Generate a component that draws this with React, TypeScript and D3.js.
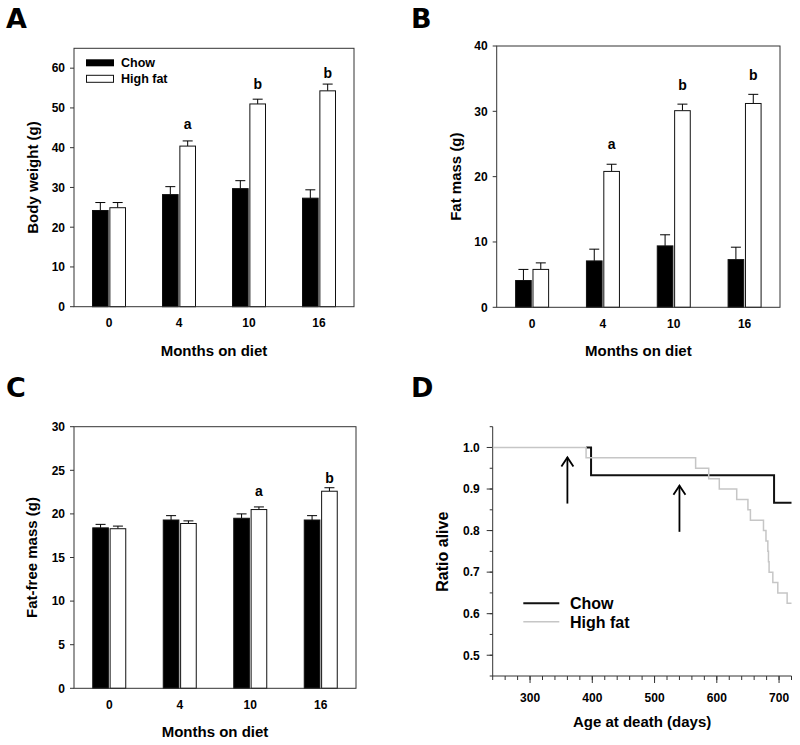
import * as d3 from "d3";

// ---- data ----
const months = ["0", "4", "10", "16"];

// A: body weight (g)
const bodyWeightChow = [24.2, 28.2, 29.7, 27.3];
const bodyWeightChowErr = [2.0, 2.0, 2.0, 2.1];
const bodyWeightHF = [24.9, 40.4, 51.0, 54.3];
const bodyWeightHFErr = [1.3, 1.3, 1.2, 1.7];
const bodyWeightSig = ["", "a", "b", "b"];
const bodyWeightSigY = [0, 44.7, 54.7, 57.5];

// B: fat mass (g)
const fatMassChow = [4.1, 7.1, 9.4, 7.3];
const fatMassChowErr = [1.7, 1.8, 1.7, 1.9];
const fatMassHF = [5.8, 20.8, 30.1, 31.2];
const fatMassHFErr = [1.0, 1.1, 1.0, 1.4];
const fatMassSig = ["", "a", "b", "b"];
const fatMassSigY = [0, 24.3, 33.2, 34.8];

// C: fat-free mass (g)
const leanChow = [18.4, 19.3, 19.5, 19.3];
const leanChowErr = [0.4, 0.5, 0.5, 0.5];
const leanHF = [18.3, 18.9, 20.5, 22.6];
const leanHFErr = [0.3, 0.3, 0.3, 0.4];
const leanSig = ["", "", "a", "b"];
const leanSigY = [0, 0, 22.05, 23.6];

// D: survival, [day, ratio alive] steps
// (chow line is hidden under the grey one before ~390 days)
const survivalChow: [number, number][] = [
  [390, 1.0],
  [398, 0.933],
  [692, 0.867],
  [720, 0.867],
];
const survivalHF: [number, number][] = [
  [240, 1.0],
  [390, 0.975],
  [566, 0.95],
  [587, 0.925],
  [604, 0.9],
  [632, 0.875],
  [650, 0.85],
  [654, 0.825],
  [675, 0.8],
  [679, 0.775],
  [682, 0.75],
  [683, 0.725],
  [684, 0.7],
  [690, 0.675],
  [698, 0.65],
  [713, 0.625],
  [720, 0.625],
];
// arrows: day, from ratio, to ratio
const arrowDays = [360, 540];
const arrowFrom = [0.865, 0.797];
const arrowTo = [0.976, 0.908];

const FONT = "'Liberation Sans', Arial, sans-serif";
const LETTER_FONT = "'DejaVu Sans', Verdana, sans-serif";
const GREY = "#c6c6c6";

type BarProps = {
  left: number;
  top: number;
  right: number;
  bottom: number;
  yMax: number;
  yStep: number;
  chow: number[];
  chowErr: number[];
  hf: number[];
  hfErr: number[];
  sig: string[];
  sigY: number[];
  yLabel: string;
  yLabelX: number;
  legend?: boolean;
};

function BarPanel(p: BarProps) {
  const x0 = d3.scaleBand().domain(months).range([p.left, p.right]);
  const half = x0.bandwidth() / 2;
  const x1 = d3
    .scaleBand()
    .domain(["chow", "hf"])
    .range([half - 16.5, half + 16.5])
    .paddingInner(0.1);
  const y = d3.scaleLinear().domain([0, p.yMax]).range([p.bottom, p.top]);
  const ticks = d3.range(0, p.yMax + 0.001, p.yStep);
  const series = [
    { key: "chow", v: p.chow, e: p.chowErr, fill: "#000" },
    { key: "hf", v: p.hf, e: p.hfErr, fill: "#fff" },
  ];
  const bw = x1.bandwidth();
  return (
    <g>
      {series.map((s) =>
        months.map((m, i) => {
          const bx = (x0(m) as number) + (x1(s.key) as number);
          const cx = bx + bw / 2;
          return (
            <g key={s.key + m}>
              <line
                x1={cx}
                x2={cx}
                y1={y(s.v[i])}
                y2={y(s.v[i] + s.e[i])}
                stroke="#000"
                strokeWidth={1}
              />
              <line
                x1={cx - 5}
                x2={cx + 5}
                y1={y(s.v[i] + s.e[i])}
                y2={y(s.v[i] + s.e[i])}
                stroke="#000"
                strokeWidth={1}
              />
              <rect
                x={bx}
                y={y(s.v[i])}
                width={bw}
                height={p.bottom - y(s.v[i])}
                fill={s.fill}
                stroke="#111"
                strokeWidth={1}
              />
            </g>
          );
        })
      )}
      {months.map((m, i) =>
        p.sig[i] ? (
          <text
            key={"s" + m}
            x={(x0(m) as number) + (x1("hf") as number) + bw / 2}
            y={y(p.sigY[i])}
            textAnchor="middle"
            fontFamily={FONT}
            fontWeight="bold"
            fontSize={14}
          >
            {p.sig[i]}
          </text>
        ) : null
      )}
      {/* frame */}
      <rect
        x={p.left}
        y={p.top}
        width={p.right - p.left}
        height={p.bottom - p.top}
        fill="none"
        stroke="#333"
        strokeWidth={1}
      />
      {ticks.map((t) => (
        <g key={"t" + t}>
          <line x1={p.left - 4} x2={p.left} y1={y(t)} y2={y(t)} stroke="#333" />
          <text
            x={p.left - 9}
            y={y(t)}
            dy="0.36em"
            textAnchor="end"
            fontFamily={FONT}
            fontWeight="bold"
            fontSize={12}
          >
            {t}
          </text>
        </g>
      ))}
      {months.map((m) => (
        <text
          key={"x" + m}
          x={(x0(m) as number) + half}
          y={p.bottom + 20.5}
          textAnchor="middle"
          fontFamily={FONT}
          fontWeight="bold"
          fontSize={12}
        >
          {m}
        </text>
      ))}
      <text
        x={(p.left + p.right) / 2}
        y={p.bottom + 49}
        textAnchor="middle"
        fontFamily={FONT}
        fontWeight="bold"
        fontSize={15}
      >
        Months on diet
      </text>
      <text
        transform={`translate(${p.yLabelX},${(p.top + p.bottom) / 2}) rotate(-90)`}
        textAnchor="middle"
        fontFamily={FONT}
        fontWeight="bold"
        fontSize={15}
      >
        {p.yLabel}
      </text>
      {p.legend && (
        <g fontFamily={FONT} fontWeight="bold" fontSize={12.5}>
          <rect x={p.left + 12} y={p.top + 11} width={28} height={7} fill="#000" />
          <text x={p.left + 47} y={p.top + 19}>
            Chow
          </text>
          <rect
            x={p.left + 12.5}
            y={p.top + 27}
            width={27}
            height={7}
            fill="#fff"
            stroke="#111"
          />
          <text x={p.left + 47} y={p.top + 34.5}>
            High fat
          </text>
        </g>
      )}
    </g>
  );
}

function SurvivalPanel() {
  const left = 492.7;
  const right = 791.5;
  const top = 426.7;
  const bottom = 676;
  const x = d3.scaleLinear().domain([240, 720]).range([left, right]);
  const y = d3.scaleLinear().domain([0.45, 1.05]).range([bottom, top]);
  const line = d3
    .line<[number, number]>()
    .x((d) => x(d[0]))
    .y((d) => y(d[1]))
    .curve(d3.curveStepAfter);
  const xMinor = d3.range(240, 721, 20);
  const xMajor = d3.range(300, 701, 100);
  const yMinor = d3.range(0.45, 1.051, 0.05);
  const yMajor = d3.range(0.5, 1.001, 0.1);
  return (
    <g>
      <line x1={left} x2={left} y1={top} y2={bottom} stroke="#333" />
      <line x1={left} x2={right} y1={bottom} y2={bottom} stroke="#333" />
      {xMinor.map((t) => (
        <line key={"xm" + t} x1={x(t)} x2={x(t)} y1={bottom} y2={bottom + 4} stroke="#333" />
      ))}
      {xMajor.map((t) => (
        <g key={"xM" + t}>
          <line x1={x(t)} x2={x(t)} y1={bottom} y2={bottom + 7} stroke="#333" />
          <text
            x={x(t)}
            y={bottom + 25.5}
            textAnchor="middle"
            fontFamily={FONT}
            fontWeight="bold"
            fontSize={12}
          >
            {t}
          </text>
        </g>
      ))}
      {yMinor.map((t) => (
        <line key={"ym" + t} x1={left - 3} x2={left} y1={y(t)} y2={y(t)} stroke="#333" />
      ))}
      {yMajor.map((t) => (
        <g key={"yM" + t}>
          <line x1={left - 6} x2={left} y1={y(t)} y2={y(t)} stroke="#333" />
          <text
            x={left - 13}
            y={y(t)}
            dy="0.36em"
            textAnchor="end"
            fontFamily={FONT}
            fontWeight="bold"
            fontSize={12}
          >
            {d3.format(".1f")(t)}
          </text>
        </g>
      ))}
      <path d={line(survivalChow) ?? ""} fill="none" stroke="#111" strokeWidth={2} />
      <path d={line(survivalHF) ?? ""} fill="none" stroke={GREY} strokeWidth={1.5} />
      {arrowDays.map((d, i) => {
        const ax = x(d);
        const ty = y(arrowTo[i]);
        return (
          <g key={"ar" + d} stroke="#000" strokeWidth={1.8} fill="none">
            <line x1={ax} x2={ax} y1={y(arrowFrom[i])} y2={ty} />
            <polyline points={`${ax - 6},${ty + 9} ${ax},${ty} ${ax + 6},${ty + 9}`} />
          </g>
        );
      })}
      <g fontFamily={FONT} fontWeight="bold" fontSize={16}>
        <line x1={523.3} x2={559.3} y1={603.3} y2={603.3} stroke="#111" strokeWidth={2} />
        <text x={570} y={609.3}>
          Chow
        </text>
        <line x1={523.3} x2={559.3} y1={621.7} y2={621.7} stroke={GREY} strokeWidth={1.5} />
        <text x={570} y={628.3}>
          High fat
        </text>
      </g>
      <text
        x={(left + right) / 2}
        y={bottom + 51}
        textAnchor="middle"
        fontFamily={FONT}
        fontWeight="bold"
        fontSize={15}
      >
        Age at death (days)
      </text>
      <text
        transform={`translate(448,551.7) rotate(-90)`}
        textAnchor="middle"
        fontFamily={FONT}
        fontWeight="bold"
        fontSize={16}
      >
        Ratio alive
      </text>
    </g>
  );
}

export default function App() {
  return (
    <svg
      width={800}
      height={745}
      style={{ position: "absolute", left: 0, top: 0, background: "#fff" }}
    >
      <rect width={800} height={745} fill="#fff" />
      <g fontFamily={LETTER_FONT} fontWeight="bold" fontSize={27}>
        <text x={6} y={28}>A</text>
        <text x={411} y={28}>B</text>
        <text x={6} y={397}>C</text>
        <text x={411} y={396.5}>D</text>
      </g>
      <BarPanel
        left={74}
        top={48.3}
        right={354}
        bottom={306.7}
        yMax={65}
        yStep={10}
        chow={bodyWeightChow}
        chowErr={bodyWeightChowErr}
        hf={bodyWeightHF}
        hfErr={bodyWeightHFErr}
        sig={bodyWeightSig}
        sigY={bodyWeightSigY}
        yLabel="Body weight (g)"
        yLabelX={38}
        legend
      />
      <BarPanel
        left={496.7}
        top={46}
        right={780}
        bottom={307.3}
        yMax={40}
        yStep={10}
        chow={fatMassChow}
        chowErr={fatMassChowErr}
        hf={fatMassHF}
        hfErr={fatMassHFErr}
        sig={fatMassSig}
        sigY={fatMassSigY}
        yLabel="Fat mass (g)"
        yLabelX={461}
      />
      <BarPanel
        left={74}
        top={426.7}
        right={356}
        bottom={688.3}
        yMax={30}
        yStep={5}
        chow={leanChow}
        chowErr={leanChowErr}
        hf={leanHF}
        hfErr={leanHFErr}
        sig={leanSig}
        sigY={leanSigY}
        yLabel="Fat-free mass (g)"
        yLabelX={37}
      />
      <SurvivalPanel />
    </svg>
  );
}
